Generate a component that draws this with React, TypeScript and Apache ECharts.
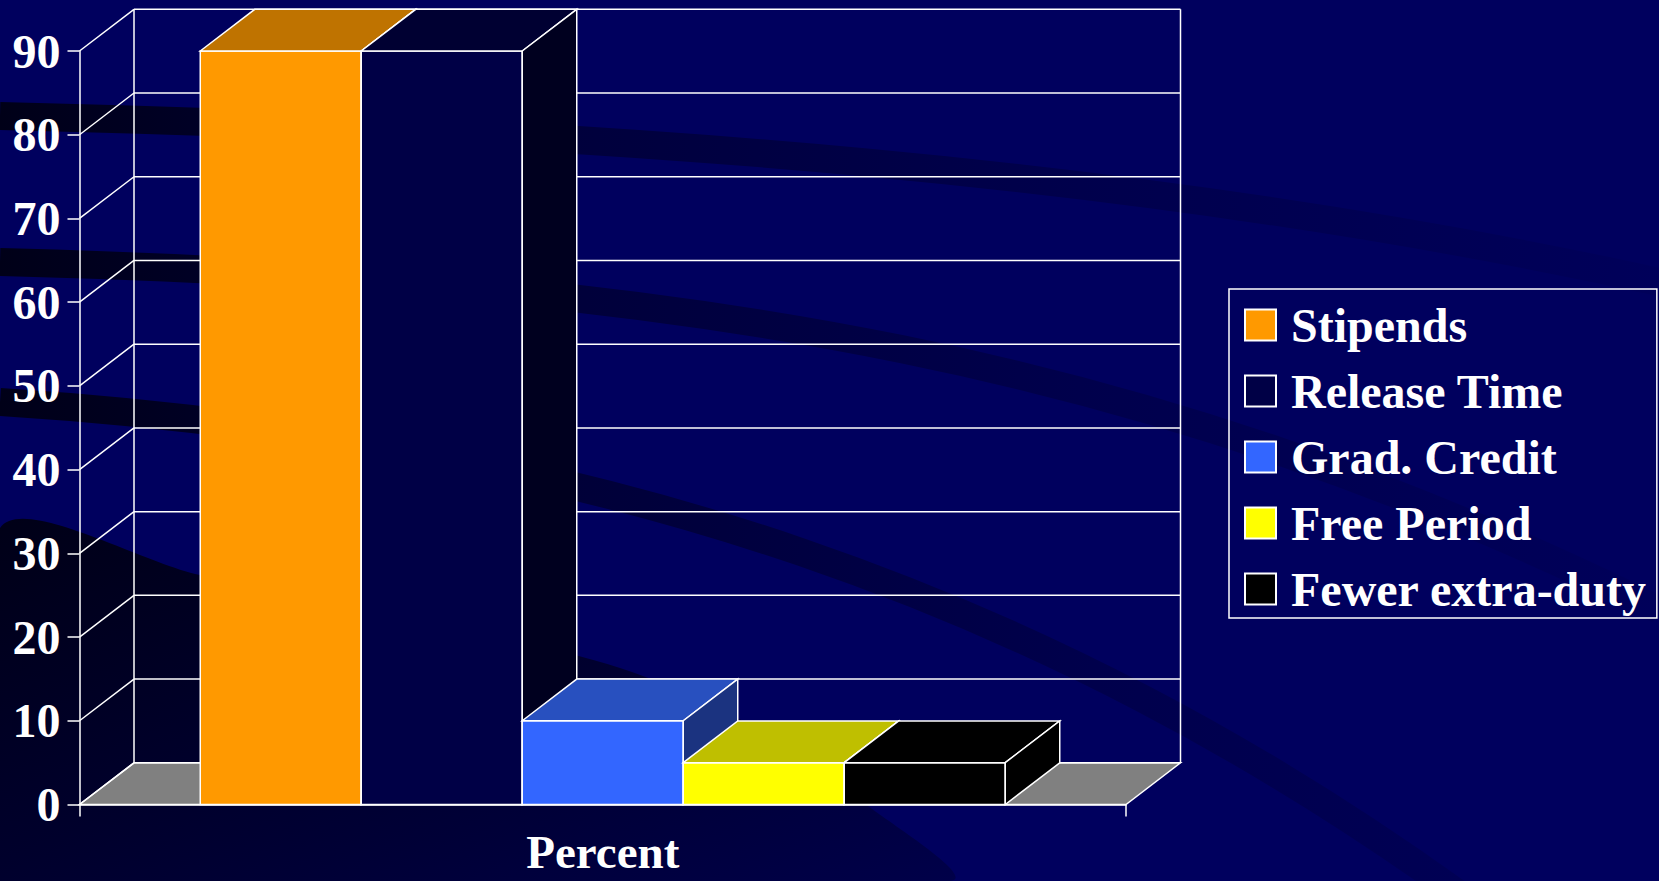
import React, { useEffect, useRef } from "react";
import * as echarts from "echarts";

// ---- data ----
const categories = ["Percent"];
const seriesNames = ["Stipends", "Release Time", "Grad. Credit", "Free Period", "Fewer extra-duty"];
const seriesValues = [90, 90, 10, 5, 5];
const yTickValues = [0, 10, 20, 30, 40, 50, 60, 70, 80, 90];

// ---- styles ----
const frontColors = ["#FF9900", "#000046", "#3366FF", "#FFFF00", "#000000"];
const topColors = ["#BF7300", "#000032", "#2850BF", "#BFBF00", "#000000"];
const sideColors = ["#7F4C00", "#00001F", "#1B3380", "#808000", "#000000"];
const FONT = '"Liberation Serif", "Times New Roman", serif';
const BG = "#00005E";
const DX = 54.5;
const DY = -41.7;
const GAP = 1.5; // gap width as multiple of bar width
const LW = 1.5;

function lineEl(x1: number, y1: number, x2: number, y2: number) {
  return {
    type: "line",
    shape: { x1, y1, x2, y2 },
    style: { stroke: "#ffffff", lineWidth: LW },
  };
}

function wallsRender(params: any, api: any) {
  const yMax = yTickValues[yTickValues.length - 1];
  const c0 = api.coord([0, 0]);
  const catW = api.size([1, 0])[0];
  const xl = c0[0] - catW / 2;
  const xr = c0[0] + catW / 2;
  const y0 = c0[1];
  const yt = api.coord([0, yMax])[1];
  const children: any[] = [];
  children.push({
    type: "polygon",
    shape: { points: [[xl, y0], [xr, y0], [xr + DX, y0 + DY], [xl + DX, y0 + DY]] },
    style: { fill: "#808080", stroke: "#ffffff", lineWidth: LW, lineJoin: "miter" },
  });
  for (const v of yTickValues) {
    const y = api.coord([0, v])[1];
    children.push(lineEl(xl, y, xl + DX, y + DY));
    children.push(lineEl(xl + DX, y + DY, xr + DX, y + DY));
  }
  children.push(lineEl(xl + DX, y0 + DY, xl + DX, yt + DY));
  children.push(lineEl(xr + DX, y0 + DY, xr + DX, yt + DY));
  return { type: "group", children };
}

function makeBarRender(idx: number) {
  return (params: any, api: any) => {
    const n = seriesNames.length;
    const val = api.value(1);
    const base = api.coord([api.value(0), 0]);
    const top = api.coord([api.value(0), val]);
    const catW = api.size([1, 0])[0];
    const bw = catW / (n + GAP);
    const x0 = base[0] - catW / 2 + bw * (GAP / 2) + idx * bw;
    const x1 = x0 + bw;
    const yb = base[1];
    const yt = top[1];
    const st = { stroke: "#ffffff", lineWidth: LW, lineJoin: "miter" };
    return {
      type: "group",
      children: [
        {
          type: "polygon",
          shape: { points: [[x0, yt], [x1, yt], [x1, yb], [x0, yb]] },
          style: { ...st, fill: frontColors[idx] },
        },
        {
          type: "polygon",
          shape: { points: [[x0, yt], [x0 + DX, yt + DY], [x1 + DX, yt + DY], [x1, yt]] },
          style: { ...st, fill: topColors[idx] },
        },
        {
          type: "polygon",
          shape: { points: [[x1, yt], [x1 + DX, yt + DY], [x1 + DX, yb + DY], [x1, yb]] },
          style: { ...st, fill: sideColors[idx] },
        },
      ],
    };
  };
}

function grad(stops: [number, string][], x2 = 1, y2 = 0) {
  return new echarts.graphic.LinearGradient(
    0,
    0,
    x2,
    y2,
    stops.map(([offset, color]) => ({ offset, color }))
  );
}

export default function App() {
  const ref = useRef<HTMLDivElement>(null);

  useEffect(() => {
    if (!ref.current) return;
    const chart = echarts.init(ref.current, undefined, { renderer: "svg" });

    const bandStyle = (stops: [number, string][]) => ({
      stroke: grad(stops),
      lineWidth: 28,
      fill: "none",
    });

    const option: any = {
      animation: false,
      backgroundColor: BG,
      graphic: [
        {
          type: "polygon",
          z: -10,
          silent: true,
          shape: {
            points: [
              [0, 528],
              [200, 575],
              [420, 620],
              [620, 668],
              [760, 730],
              [860, 800],
              [950, 881],
              [0, 881],
            ],
            smooth: 0.3,
          },
          style: {
            fill: grad(
              [
                [0, "#000016"],
                [0.45, "#00002C"],
                [1, "#00004C"],
              ],
              1,
              1
            ),
          },
        },
        {
          type: "bezierCurve",
          z: -10,
          silent: true,
          shape: { x1: 0, y1: 116, cpx1: 600, cpy1: 130, cpx2: 1150, cpy2: 170, x2: 1659, y2: 282 },
          style: bandStyle([
            [0, "#000018"],
            [0.3, "#00003A"],
            [0.65, "#00004C"],
            [1, "#00005A"],
          ]),
        },
        {
          type: "bezierCurve",
          z: -10,
          silent: true,
          shape: { x1: 0, y1: 262, cpx1: 700, cpy1: 280, cpx2: 1150, cpy2: 360, x2: 1659, y2: 610 },
          style: bandStyle([
            [0, "#000018"],
            [0.3, "#000038"],
            [0.65, "#00004C"],
            [1, "#00005A"],
          ]),
        },
        {
          type: "bezierCurve",
          z: -10,
          silent: true,
          shape: { x1: 0, y1: 402, cpx1: 600, cpy1: 440, cpx2: 1050, cpy2: 600, x2: 1460, y2: 895 },
          style: bandStyle([
            [0, "#000018"],
            [0.35, "#000036"],
            [0.75, "#00004C"],
            [1, "#000054"],
          ]),
        },
      ],
      grid: {
        left: 79.5,
        top: 51,
        right: 533,
        bottom: 76.5,
        containLabel: false,
        outerBoundsMode: "none",
      },
      legend: {
        orient: "vertical",
        left: 1229,
        top: 289,
        padding: [12, 10, 5, 15],
        itemWidth: 31,
        itemHeight: 31,
        itemGap: 18,
        borderColor: "#ffffff",
        borderWidth: 1.5,
        icon: "rect",
        selectedMode: false,
        itemStyle: { borderColor: "#ffffff", borderWidth: 2 },
        textStyle: {
          color: "#ffffff",
          fontSize: 48,
          fontWeight: "bold",
          fontFamily: FONT,
          lineHeight: 48,
          padding: [0, 0, 0, 10],
        },
        data: seriesNames,
      },
      xAxis: {
        type: "category",
        data: categories,
        axisLine: { show: true, lineStyle: { color: "#ffffff", width: LW } },
        axisTick: { show: true, length: 12, lineStyle: { color: "#ffffff", width: LW } },
        axisLabel: {
          color: "#ffffff",
          fontSize: 47,
          fontWeight: "bold",
          fontFamily: FONT,
          lineHeight: 40,
          margin: 27,
          interval: 0,
        },
        splitLine: { show: false },
      },
      yAxis: {
        type: "value",
        min: 0,
        max: yTickValues[yTickValues.length - 1],
        interval: 10,
        axisLine: { show: true, lineStyle: { color: "#ffffff", width: LW } },
        axisTick: { show: true, length: 12, lineStyle: { color: "#ffffff", width: LW } },
        axisLabel: {
          color: "#ffffff",
          fontSize: 48,
          fontWeight: "bold",
          fontFamily: FONT,
          margin: 19,
          padding: [7, 0, 0, 0],
        },
        splitLine: { show: false },
      },
      series: [
        {
          type: "custom",
          name: "__walls",
          z: 1,
          clip: false,
          silent: true,
          renderItem: wallsRender,
          data: [[0, 0]],
          encode: { x: 0, y: 1 },
        },
        ...seriesNames.map((name, i) => ({
          type: "custom",
          name,
          z: 10 + i,
          clip: false,
          itemStyle: { color: frontColors[i] },
          renderItem: makeBarRender(i),
          data: [[0, seriesValues[i]]],
          encode: { x: 0, y: 1 },
        })),
      ],
    };

    chart.setOption(option);
    return () => chart.dispose();
  }, []);

  return (
    <div
      ref={ref}
      style={{ position: "fixed", left: 0, top: 0, width: 1659, height: 881 }}
    />
  );
}
